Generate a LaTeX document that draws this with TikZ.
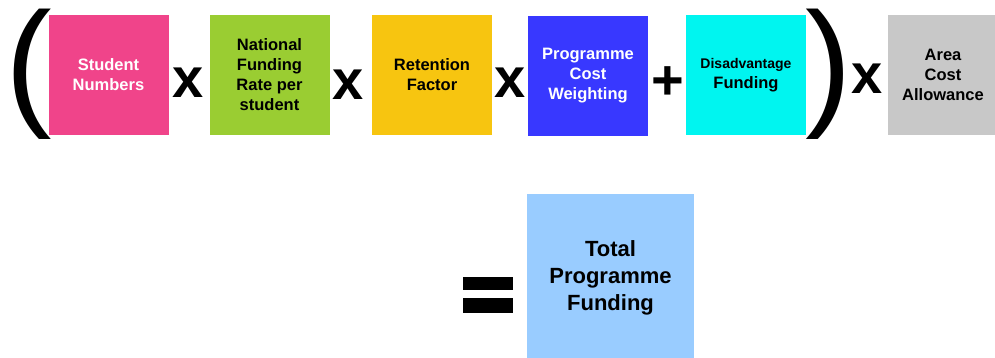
\documentclass[tikz,border=0pt]{standalone}
\usepackage{fontspec}
\setmainfont{Liberation Sans}
\usepackage{tikz}

\definecolor{studpink}{RGB}{240,68,138}
\definecolor{rategreen}{RGB}{154,205,50}
\definecolor{retyellow}{RGB}{247,197,16}
\definecolor{costblue}{RGB}{56,56,255}
\definecolor{discyan}{RGB}{0,245,240}
\definecolor{areagray}{RGB}{200,200,200}
\definecolor{totalblue}{RGB}{153,204,255}

\begin{document}
\begin{tikzpicture}[x=1pt,y=-1pt,
  term/.style={shape=rectangle,minimum width=120pt,minimum height=120pt,inner sep=0pt,align=center,font=\bfseries\fontsize{16.5}{20}\selectfont},
  op/.style={inner sep=0pt,font=\bfseries\fontsize{56}{56}\selectfont},
  paren/.style={inner sep=0pt,font=\fontsize{140}{140}\selectfont}]
\useasboundingbox (0,0) rectangle (995,358);
% the terms
\path (108.5,75) node (stud) [term,fill=studpink,text=white] {Student\\Numbers};
\path (269.5,75) node (rate) [term,fill=rategreen] {National\\Funding\\Rate per\\student};
\path (432,75) node (ret) [term,fill=retyellow] {Retention\\Factor};
\path (588,76) node (cost) [term,fill=costblue,text=white] {Programme\\Cost\\Weighting};
\path (746,75) node (dis) [term,fill=discyan] {{\fontsize{14}{17}\selectfont Disadvantage}\\Funding};
\path (943,75) node (area) [term,minimum width=110pt,fill=areagray] {Area\\Cost\\Allowance};
\path (610.5,277.5) node (total) [term,minimum width=167pt,minimum height=167pt,fill=totalblue,font=\bfseries\fontsize{22}{27}\selectfont] {Total\\Programme\\Funding};
% operators
\path (29,74.5) node (lpar) [paren] {(};
\path (829,74.5) node (rpar) [paren] {)};
\path (188,83) node (times1) [op] {x};
\path (348,85) node (times2) [op] {x};
\path (510,83) node (times3) [op] {x};
\path (668,83) node (plus) [op] {+};
\path (867,79) node (times4) [op] {x};
\fill (463,277) rectangle (513,290);
\fill (463,298) rectangle (513,313);
\end{tikzpicture}
\end{document}
